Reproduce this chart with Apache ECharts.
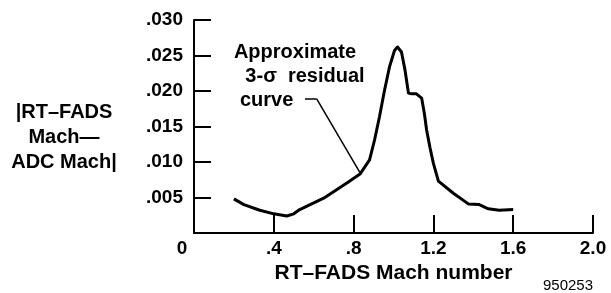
<!DOCTYPE html>
<html>
<head>
<meta charset="utf-8">
<script src="https://cdn.jsdelivr.net/npm/echarts@6/dist/echarts.min.js"></script>
<style>
  html, body { margin: 0; padding: 0; background: #fff; }
  #chart { width: 611px; height: 293px; }
</style>
</head>
<body>
<div id="chart"></div>
<script>
// 3-sigma residual curve
var machX = [0.2, 0.25, 0.33, 0.40, 0.465, 0.50, 0.53, 0.65, 0.77, 0.832, 0.88, 0.905, 0.93, 0.955,
  0.98, 1.005, 1.02, 1.04, 1.058, 1.075, 1.09, 1.115, 1.141, 1.155, 1.166, 1.183, 1.20, 1.225,
  1.30, 1.375, 1.43, 1.475, 1.53, 1.60];
var residual = [0.0048, 0.0040, 0.0032, 0.0027, 0.0024, 0.0027, 0.0033, 0.0049, 0.0071, 0.0083,
  0.0103, 0.0131, 0.0164, 0.0201, 0.0234, 0.0257, 0.0262, 0.0255, 0.0229, 0.0197, 0.0196, 0.0196,
  0.0190, 0.0168, 0.0145, 0.0120, 0.0098, 0.0073, 0.0056, 0.0041, 0.0040, 0.0034, 0.0032, 0.0033];
// leader line from the label to the curve
var leaderX = [0.556, 0.615, 0.832];
var leaderY = [0.0189, 0.0189, 0.0085];

var font = '"Liberation Sans", Arial, sans-serif';
var chart = echarts.init(document.getElementById('chart'));

var option = {
  animation: false,
  grid: { left: 194, right: 18, top: 20, bottom: 60 },
  xAxis: {
    type: 'value',
    min: 0, max: 2.0, interval: 0.4,
    name: 'RT\u2013FADS Mach number',
    nameLocation: 'middle',
    nameGap: 24,
    nameTextStyle: { color: '#000', fontFamily: font, fontWeight: 'bold', fontSize: 21 },
    axisLine: { lineStyle: { color: '#000', width: 2 } },
    axisTick: { inside: true, length: 18, lineStyle: { color: '#000', width: 2 } },
    splitLine: { show: false },
    axisLabel: {
      color: '#000', fontFamily: font, fontWeight: 'bold', fontSize: 19, margin: 6,
      formatter: function (v) {
        if (v === 0) return '{z|0}';
        var s = v.toFixed(1);
        return v < 1 ? s.slice(1) : s;
      },
      rich: { z: { fontFamily: font, fontWeight: 'bold', fontSize: 19, color: '#000', padding: [0, 24, 0, 0] } }
    }
  },
  yAxis: {
    type: 'value',
    min: 0, max: 0.03, interval: 0.005,
    axisLine: { show: true, lineStyle: { color: '#000', width: 2 } },
    axisTick: { show: true, inside: true, length: 17, lineStyle: { color: '#000', width: 2 } },
    splitLine: { show: false },
    axisLabel: {
      color: '#000', fontFamily: font, fontWeight: 'bold', fontSize: 19, margin: 11,
      formatter: function (v) {
        if (v === 0) return '';
        return v.toFixed(3).slice(1);
      }
    }
  },
  graphic: [
    {
      type: 'text', left: 'center', x: 64, y: 137,
      style: {
        text: '|RT\u2013FADS\nMach\u2014\nADC Mach|',
        x: 0, y: 0,
        align: 'center', verticalAlign: 'middle', lineHeight: 25,
        fill: '#000', font: 'bold 20px ' + font
      },
      left: null
    },
    {
      type: 'text', x: 295, y: 52,
      style: { text: 'Approximate', align: 'center', verticalAlign: 'middle', fill: '#000', font: 'bold 20px ' + font }
    },
    {
      type: 'text', x: 305, y: 76,
      style: { text: '3-\u03c3  residual', align: 'center', verticalAlign: 'middle', fill: '#000', font: 'bold 20px ' + font }
    },
    {
      type: 'text', x: 240, y: 100,
      style: { text: 'curve', align: 'left', verticalAlign: 'middle', fill: '#000', font: 'bold 20px ' + font }
    },
    {
      type: 'text', x: 568, y: 286,
      style: { text: '950253', align: 'center', verticalAlign: 'middle', fill: '#000', font: '15px ' + font }
    }
  ],
  series: [
    {
      type: 'line',
      data: machX.map(function (x, i) { return [x, residual[i]]; }),
      showSymbol: false,
      symbol: 'none',
      lineStyle: { color: '#000', width: 3, join: 'round' },
      markLine: {
        silent: true,
        symbol: 'none',
        label: { show: false },
        lineStyle: { color: '#000', width: 1.5, type: 'solid' },
        data: [
          [{ coord: [leaderX[0], leaderY[0]] }, { coord: [leaderX[1], leaderY[1]] }],
          [{ coord: [leaderX[1], leaderY[1]] }, { coord: [leaderX[2], leaderY[2]] }]
        ]
      }
    }
  ]
};
chart.setOption(option);
</script>
</body>
</html>
